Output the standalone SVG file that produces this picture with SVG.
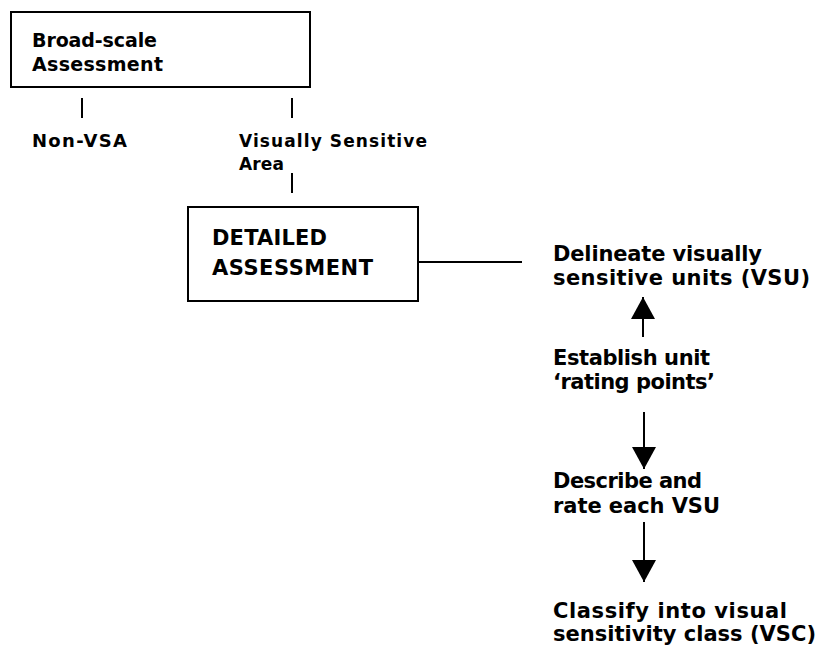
<svg xmlns="http://www.w3.org/2000/svg" width="822" height="645" viewBox="0 0 822 645">
  <defs>
    <style>
      .box { fill: #ffffff; stroke: #000000; stroke-width: 2; }
      .lbl { font-family: "DejaVu Sans", "Liberation Sans", sans-serif; font-weight: 700; font-size: 19px; fill: #000000; }
      .sm { font-size: 18px; }
      .xs { font-size: 17px; }
      .big { font-size: 21px; }
      .ln { stroke: #000000; stroke-width: 2; fill: none; }
    </style>
    <marker id="head" viewBox="0 0 22 24" refX="22" refY="12" markerWidth="22" markerHeight="24" markerUnits="userSpaceOnUse" orient="auto">
      <path d="M0,0 L22,12 L0,24 Z" fill="#000000"/>
    </marker>
  </defs>
  <rect width="822" height="645" fill="#ffffff"/>

  <g id="broad-scale">
    <rect class="box" x="11" y="12" width="299" height="75"/>
    <text class="lbl" x="32" y="47" textLength="125" lengthAdjust="spacing">Broad-scale</text>
    <text class="lbl" x="32" y="71" textLength="131" lengthAdjust="spacing">Assessment</text>
  </g>

  <g id="non-vsa">
    <text class="lbl sm" x="32" y="147" textLength="95" lengthAdjust="spacing">Non-VSA</text>
  </g>

  <g id="vsa">
    <text class="lbl xs" x="239" y="147" textLength="188" lengthAdjust="spacing">Visually Sensitive</text>
    <text class="lbl xs" x="239" y="170" textLength="45" lengthAdjust="spacing">Area</text>
  </g>

  <g id="detailed">
    <rect class="box" x="188" y="207" width="230" height="94"/>
    <text class="lbl big" x="212" y="245" textLength="115" lengthAdjust="spacing">DETAILED</text>
    <text class="lbl big" x="212" y="275" textLength="161" lengthAdjust="spacing">ASSESSMENT</text>
  </g>

  <g id="delineate">
    <text class="lbl big" x="553" y="261" textLength="209" lengthAdjust="spacing">Delineate visually</text>
    <text class="lbl big" x="553" y="285" textLength="257" lengthAdjust="spacing">sensitive units (VSU)</text>
  </g>

  <g id="establish">
    <text class="lbl big" x="553" y="365" textLength="157" lengthAdjust="spacing">Establish unit</text>
    <text class="lbl big" x="553" y="389" textLength="162" lengthAdjust="spacing">‘rating points’</text>
  </g>

  <g id="describe">
    <text class="lbl big" x="553" y="488" textLength="149" lengthAdjust="spacing">Describe and</text>
    <text class="lbl big" x="553" y="513" textLength="167" lengthAdjust="spacing">rate each VSU</text>
  </g>

  <g id="classify">
    <text class="lbl big" x="553" y="618" textLength="234" lengthAdjust="spacing">Classify into visual</text>
    <text class="lbl big" x="553" y="641" textLength="263" lengthAdjust="spacing">sensitivity class (VSC)</text>
  </g>

  <g id="connectors">
    <line class="ln" x1="82" y1="98" x2="82" y2="118"/>
    <line class="ln" x1="292" y1="98" x2="292" y2="118"/>
    <line class="ln" x1="292" y1="173" x2="292" y2="193"/>
    <line class="ln" x1="418" y1="262" x2="522" y2="262"/>
    <line class="ln" x1="643" y1="337" x2="643" y2="297" marker-end="url(#head)"/>
    <line class="ln" x1="644" y1="412" x2="644" y2="469" marker-end="url(#head)"/>
    <line class="ln" x1="644" y1="522" x2="644" y2="582" marker-end="url(#head)"/>
  </g>
</svg>
